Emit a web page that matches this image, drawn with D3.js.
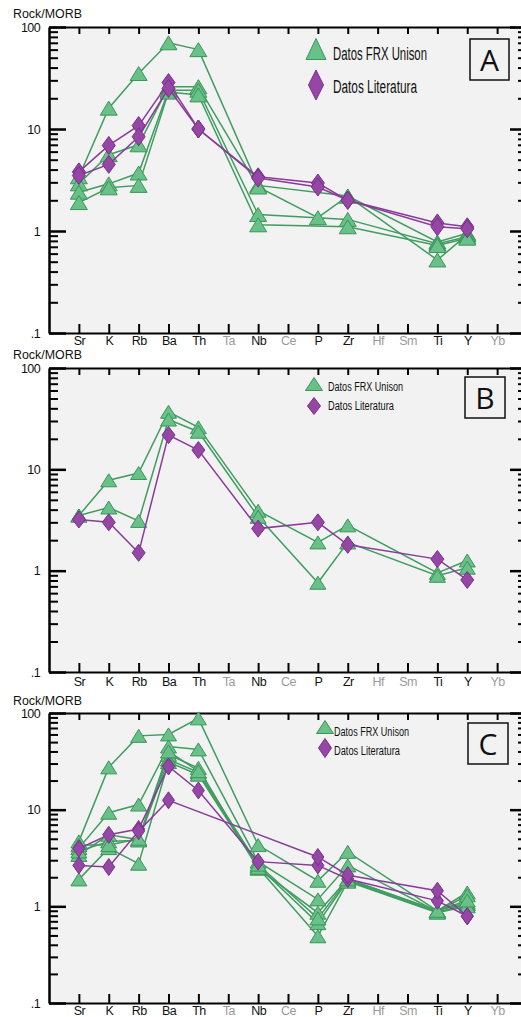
<!DOCTYPE html>
<html>
<head>
<meta charset="utf-8">
<script src="https://cdn.jsdelivr.net/npm/d3@7"></script>
<style>
body { margin: 0; background: #fff; }
svg { display: block; font-family: "Liberation Sans", Arial, sans-serif; }
</style>
</head>
<body>
<svg id="chart" width="521" height="1017"></svg>
<script>
// element order along the x axis (spider diagram, normalised to MORB)
const elements = ["Sr","K","Rb","Ba","Th","Ta","Nb","Ce","P","Zr","Hf","Sm","Ti","Y","Yb"];
const greyEls = ["Ta","Ce","Hf","Sm","Yb"];
const majorTicks = [0.1, 1, 10, 100];
const majorLabels = [".1", "1", "10", "100"];
const legendNames = ["Datos FRX Unison", "Datos Literatura"];

// panel A                Sr   K    Rb   Ba   Th  Ta   Nb   Ce   P     Zr   Hf   Sm   Ti    Y    Yb
const aFrx1 = [3.4, 16,  35,  70,  60, null, 2.8, null, null, 2.2, null, null, 0.78, 0.95, null];
const aFrx2 = [2.9, 5.6, 7.0, 26,  26, null, 2.7, null, 1.35, 2.2, null, null, 0.52, 0.92, null];
const aFrx3 = [2.4, 2.9, 3.7, 24,  24, null, 1.45,null, null, 1.3, null, null, 0.75, 0.88, null];
const aFrx4 = [1.9, 2.65,2.8, 23, 21.6,null, 1.15,null, null, 1.1, null, null, 0.72, 0.85, null];
const aLit1 = [3.8, 6.9, 10.8,28.5,10, null, 3.4, null, 2.95, 2.0, null, null, 1.2,  1.1,  null];
const aLit2 = [3.5, 4.5, 8.4, 25,  10, null, 3.3, null, 2.7,  2.0, null, null, 1.1,  1.05, null];

// panel B
const bFrx1 = [3.5, 7.8, 9.2, 37, 26,  null, 3.9, null, 1.9,  2.8, null, null, 0.95, 1.26, null];
const bFrx2 = [3.5, 4.2, 3.1, 31, 23.5,null, 3.4, null, 0.76, 1.9, null, null, 0.89, 1.07, null];
const bLit1 = [3.2, 3.0, 1.5, 21.8,15.5,null,2.6, null, 3.0,  1.8, null, null, 1.3,  0.81, null];

// panel C
const cFrx1 = [4.7, 27.4,58,  60, 88,  null, 4.3, null, 1.84, 3.66,null, null, 0.9,  1.39, null];
const cFrx2 = [4.0, 9.3, 11.3,45, 42,  null, 2.9, null, 1.18, 2.65,null, null, 0.88, 1.3,  null];
const cFrx3 = [3.4, 5.5, 4.9, 37, 27,  null, 2.45,null, 0.86, 1.92,null, null, 0.9,  1.09, null];
const cFrx4 = [3.7, 4.7, 4.8, 33, 24.3,null, 2.6, null, 0.67, 1.85,null, null, 0.87, 1.05, null];
const cFrx5 = [1.9, 4.0, 2.76,31, 23,  null, 2.5, null, 0.49, 1.8, null, null, 0.86, 1.0,  null];
const cFrx6 = [4.3, 4.3, 5.0, 40, 25,  null, 2.7, null, 0.75, 1.9, null, null, 0.9,  1.15, null];
const cLit1 = [3.96,5.5, 6.3, 28, 15.8,null, 2.9, null, 2.65, 1.92,null, null, 1.14, 0.79, null];
const cLit2 = [2.65,2.55,6.0, 12.5,null,null,null,null, 3.24, 2.1, null, null, 1.45, 0.79, null];

const svg = d3.select("#chart");
const x = d3.scaleLinear().domain([-1, 15]).range([49, 527]);
const idx = d3.range(elements.length);

const greenLine = "#3f9d5f", greenFill = "#69c088", greenEdge = "#3a9659";
const purpLine = "#8a3b9a", purpFill = "#9646a5", purpEdge = "#77308a";

function triPath(w, h) { return `M0,${-h/2}L${w/2},${h/2}L${-w/2},${h/2}Z`; }
function diaPath(w, h) { return `M0,${-h/2}L${w/2},0L0,${h/2}L${-w/2},0Z`; }

const panels = [
  { top: 27, bottom: 333, frx: [aFrx1,aFrx2,aFrx3,aFrx4], lit: [aLit1,aLit2], letter: "A",
    titleY: 18, labPad: 3, tri: [17,14], dia: [13,18],
    leg: { mx: 316, y1: 49, y2: 85, tx: 333, b1: 60, b2: 93, fs: 18, w1: 94, w2: 84, tw: 20, th: 21, dw: 15, dh: 30 },
    box: [470, 39, 39, 41] },
  { top: 368, bottom: 672, frx: [bFrx1,bFrx2], lit: [bLit1], letter: "B",
    titleY: 359, labPad: 5, tri: [16,13], dia: [13,17],
    leg: { mx: 314, y1: 384, y2: 406, tx: 328, b1: 391, b2: 410, fs: 12, w1: 75, w2: 66, tw: 17, th: 13, dw: 13, dh: 17 },
    box: [465, 377, 40, 41] },
  { top: 713, bottom: 1003, frx: [cFrx1,cFrx2,cFrx3,cFrx4,cFrx5,cFrx6], lit: [cLit1,cLit2], letter: "C",
    titleY: 705, labPad: 3, tri: [16,13], dia: [12,17],
    leg: { mx: 325, y1: 727, y2: 748, tx: 334, b1: 736, b2: 755, fs: 12, w1: 75, w2: 66, tw: 17, th: 13, dw: 13, dh: 19 },
    box: [468, 723, 40, 41] }
];

function drawSeries(g, y, series, lineCol, fill, edge, shape) {
  const line = d3.line().x(d => x(d.i)).y(d => y(d.v));
  series.forEach(s => {
    const pts = s.map((v, i) => ({ i: i, v: v })).filter(d => d.v != null);
    g.append("path").datum(pts).attr("d", line)
      .attr("fill", "none").attr("stroke", lineCol).attr("stroke-width", 1.5);
  });
  series.forEach(s => {
    const pts = s.map((v, i) => ({ i: i, v: v })).filter(d => d.v != null);
    g.selectAll(null).data(pts).enter().append("path")
      .attr("d", shape)
      .attr("transform", d => `translate(${x(d.i)},${y(d.v)})`)
      .attr("fill", fill).attr("stroke", edge).attr("stroke-width", 1);
  });
}

function drawPanel(p) {
  const y = d3.scaleLog().domain([0.1, 100]).range([p.bottom, p.top]);
  const g = svg.append("g");
  g.append("rect").attr("x", x(-1)).attr("y", p.top)
    .attr("width", x(15) - x(-1)).attr("height", p.bottom - p.top).attr("fill", "#f2f2f2");

  const minor = [];
  [0.1, 1, 10].forEach(d => { for (let k = 2; k <= 9; k++) minor.push(d * k); });

  // left axis: minor + major
  g.append("g").attr("transform", `translate(${x(-1)},0)`)
    .call(d3.axisLeft(y).tickValues(minor).tickSize(-9).tickSizeOuter(0).tickFormat(""))
    .call(a => a.select(".domain").remove())
    .selectAll("line").attr("stroke-width", 2);
  const left = g.append("g").attr("transform", `translate(${x(-1)},0)`)
    .call(d3.axisLeft(y).tickValues(majorTicks).tickSize(-17).tickSizeOuter(0).tickPadding(9)
      .tickFormat((d, i) => majorLabels[i]));
  left.selectAll("line").attr("stroke-width", 2.5);
  left.select(".domain").attr("stroke-width", 2.5);
  left.selectAll("text").attr("font-size", 12.5).attr("font-family", null).attr("fill", "#111")
    .attr("letter-spacing", "-0.6px");

  // right axis (mostly off canvas)
  g.append("g").attr("transform", `translate(${x(15)},0)`)
    .call(d3.axisRight(y).tickValues(minor).tickSize(-9).tickSizeOuter(0).tickFormat(""))
    .call(a => a.select(".domain").remove())
    .selectAll("line").attr("stroke-width", 2);
  g.append("g").attr("transform", `translate(${x(15)},0)`)
    .call(d3.axisRight(y).tickValues(majorTicks).tickSize(-17).tickSizeOuter(0).tickFormat(""))
    .selectAll("line,path").attr("stroke-width", 2.5);

  // top axis
  g.append("g").attr("transform", `translate(0,${p.top})`)
    .call(d3.axisTop(x).tickValues(idx).tickSize(-7).tickSizeOuter(0).tickFormat(""))
    .selectAll("line,path").attr("stroke-width", 2);

  // bottom axis with element labels
  const bot = g.append("g").attr("transform", `translate(0,${p.bottom})`)
    .call(d3.axisBottom(x).tickValues(idx).tickSize(-9).tickSizeOuter(0).tickPadding(p.labPad)
      .tickFormat(i => elements[i]));
  bot.selectAll("line,path").attr("stroke-width", 2);
  bot.selectAll("text").attr("font-size", 12.5).attr("font-family", null)
    .attr("letter-spacing", "-0.6px")
    .attr("fill", i => greyEls.includes(elements[i]) ? "#9a9a9a" : "#111");

  // y title
  g.append("text").attr("x", 13).attr("y", p.titleY).attr("font-size", 12.5)
    .attr("textLength", 69).attr("lengthAdjust", "spacingAndGlyphs").attr("fill", "#111").text("Rock/MORB");

  // data
  const body = g.append("g");
  drawSeries(body, y, p.frx, greenLine, greenFill, greenEdge, triPath(p.tri[0], p.tri[1]));
  drawSeries(body, y, p.lit, purpLine, purpFill, purpEdge, diaPath(p.dia[0], p.dia[1]));

  // legend
  const L = p.leg;
  g.append("path").attr("d", triPath(L.tw, L.th)).attr("transform", `translate(${L.mx},${L.y1})`)
    .attr("fill", greenFill).attr("stroke", greenEdge);
  g.append("path").attr("d", diaPath(L.dw, L.dh)).attr("transform", `translate(${L.mx},${L.y2})`)
    .attr("fill", purpFill).attr("stroke", purpEdge);
  [[L.b1, L.w1], [L.b2, L.w2]].forEach((b, k) => {
    g.append("text").attr("x", L.tx).attr("y", b[0]).attr("font-size", L.fs)
      .attr("textLength", b[1]).attr("lengthAdjust", "spacingAndGlyphs")
      .attr("fill", "#111").text(legendNames[k]);
  });

  // panel letter box
  const bx = p.box;
  g.append("rect").attr("x", bx[0]).attr("y", bx[1]).attr("width", bx[2]).attr("height", bx[3])
    .attr("fill", "none").attr("stroke", "#111").attr("stroke-width", 1.5);
  g.append("text").attr("x", bx[0] + bx[2] / 2).attr("y", bx[1] + bx[3] / 2 + 11)
    .attr("text-anchor", "middle").attr("font-size", 30)
    .attr("font-family", "'Open Sans', 'Noto Sans', sans-serif").attr("fill", "#111").text(p.letter);
}

panels.forEach(drawPanel);
</script>
</body>
</html>
